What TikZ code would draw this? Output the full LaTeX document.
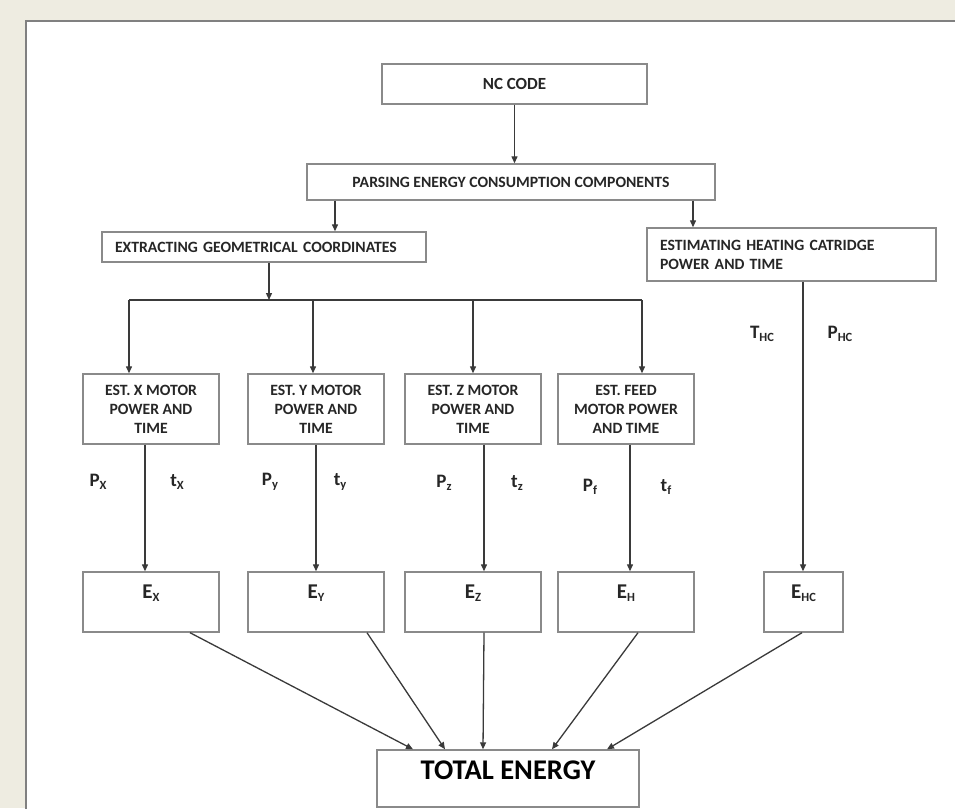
\documentclass[tikz,border=0pt]{standalone}
\usepackage{fontspec}
\setmainfont{Carlito}
\usetikzlibrary{arrows.meta}
\definecolor{bgbeige}{HTML}{EEECE1}
\definecolor{boxgray}{HTML}{8A8A8A}
\definecolor{linegray}{HTML}{3A3A3A}
\definecolor{txt}{HTML}{262626}
\definecolor{panelgray}{HTML}{808080}
\newcommand\sbs[1]{\raisebox{-2.5pt}{\fontsize{12.5}{13}\selectfont #1}}
\begin{document}
\begin{tikzpicture}[x=1pt,y=-1pt,
  box/.style={draw=boxgray, line width=1.4pt, fill=white, inner sep=0pt, text=txt,
    font=\fontsize{15.7}{19}\selectfont\bfseries},
  arr/.style={draw=linegray, line width=1.3pt, -{Triangle[length=7pt,width=6pt]}},
  ln/.style={draw=linegray, line width=1.3pt},
  lbl/.style={text=txt, font=\fontsize{19}{22}\selectfont\bfseries, inner sep=0pt},
  elbl/.style={text=txt, font=\fontsize{21}{24}\selectfont\bfseries, inner sep=0pt},
  estbox/.style={box, minimum width=136pt, minimum height=70pt, align=center},
  ebox/.style={box, minimum width=136pt, minimum height=60pt},
]
\useasboundingbox (0,0) rectangle (955,808);
\clip (0,0) rectangle (955,808);
\fill[bgbeige] (0,0) rectangle (955,808);
\draw[fill=white, draw=panelgray, line width=1.5pt] (26,21) rectangle (975,830);

% top chain
\node[box, minimum width=265pt, minimum height=40pt, font=\fontsize{17}{20}\selectfont\bfseries] (nc) at (514.5,84) {NC CODE};
\node[box, minimum width=408pt, minimum height=36pt] (parse) at (511,182) {PARSING ENERGY CONSUMPTION COMPONENTS};
\node[box, minimum height=30pt, text width=298pt, inner xsep=13pt, align=left] (extract) at (264,247) {EXTRACTING GEOMETRICAL COORDINATES};
\node[box, minimum height=53pt, text width=263pt, inner xsep=13pt, align=left] (heat) at (791.5,254.5) {ESTIMATING HEATING CATRIDGE\\POWER AND TIME};

% estimation boxes
\node[estbox] (estx) at (151,409) {EST. X MOTOR\\POWER AND\\TIME};
\node[estbox] (esty) at (316,409) {EST. Y MOTOR\\POWER AND\\TIME};
\node[estbox] (estz) at (473,409) {EST. Z MOTOR\\POWER AND\\TIME};
\node[estbox] (estf) at (626,409) {EST. FEED\\MOTOR POWER\\AND TIME};

% energy boxes
\node[ebox] (ex) at (151,602) {};
\node[ebox] (ey) at (316,602) {};
\node[ebox] (ez) at (473,602) {};
\node[ebox] (eh) at (626,602) {};
\node[box, minimum width=79pt, minimum height=60pt] (ehc) at (803.5,602) {};
\node[elbl] (exl) at (151,593) {E\sbs{X}};
\node[elbl] (eyl) at (316,593) {E\sbs{Y}};
\node[elbl] (ezl) at (473,593) {E\sbs{Z}};
\node[elbl] (ehl) at (626,593) {E\sbs{H}};
\node[elbl] (ehcl) at (803.5,593) {E\sbs{HC}};

\node[box, minimum width=262pt, minimum height=57pt] (total) at (508,778.5) {};
\node[text=black, inner sep=0pt, font=\fontsize{28.5}{32}\selectfont\bfseries] (totall) at (508,770) {TOTAL ENERGY};

% labels
\node[lbl] (px) at (98,482) {P\sbs{X}};
\node[lbl] (tx) at (177,482) {t\sbs{X}};
\node[lbl] (py) at (270,482) {P\sbs{y}};
\node[lbl] (ty) at (340,482) {t\sbs{y}};
\node[lbl] (pz) at (444,483) {P\sbs{z}};
\node[lbl] (tz) at (517,483) {t\sbs{z}};
\node[lbl] (pf) at (590,487) {P\sbs{f}};
\node[lbl] (tf) at (666,487) {t\sbs{f}};
\node[lbl] (thc) at (762,334) {T\sbs{HC}};
\node[lbl] (phc) at (840,334) {P\sbs{HC}};

% connectors
\draw[arr] (nc.south) -- (nc.south |- parse.north);
\draw[arr] (335,0 |- parse.south) -- (335,0 |- extract.north);
\draw[arr] (693,0 |- parse.south) -- (693,0 |- heat.north);
\coordinate (bus) at (269,300);
\draw[arr] (bus |- extract.south) -- (bus);
\coordinate (busl) at (129,300);
\coordinate (busr) at (642,300);
\draw[ln] (busl) -- (busr);
\draw[arr] (busl) -- (busl |- estx.north);
\draw[arr] (313,300) -- (313,0 |- esty.north);
\draw[arr] (473,300) -- (473,0 |- estz.north);
\draw[arr] (busr) -- (busr |- estf.north);

\draw[arr] (145,0 |- estx.south) -- (145,0 |- ex.north);
\draw[arr] (316,0 |- esty.south) -- (316,0 |- ey.north);
\draw[arr] (484,0 |- estz.south) -- (484,0 |- ez.north);
\draw[arr] (630,0 |- estf.south) -- (630,0 |- eh.north);
\draw[arr] (803,0 |- heat.south) -- (803,0 |- ehc.north);

\draw[arr] (190,0 |- ex.south) -- (413,0 |- total.north);
\draw[arr] (367,0 |- ey.south) -- (445,0 |- total.north);
\draw[arr] (484,0 |- ez.south) -- (483,0 |- total.north);
\draw[arr] (638,0 |- eh.south) -- (552,0 |- total.north);
\draw[arr] (802,0 |- ehc.south) -- (607,0 |- total.north);
\end{tikzpicture}
\end{document}
